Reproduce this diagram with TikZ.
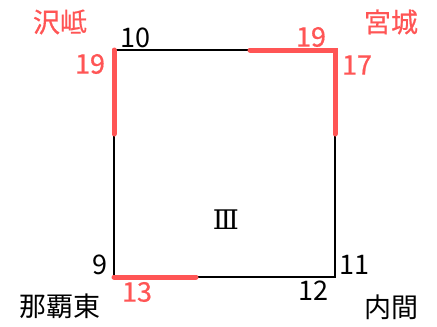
\documentclass[tikz,border=0pt]{standalone}
\usepackage{fontspec}
\setmainfont{Noto Sans CJK JP}
\newfontfamily\redfont[FakeBold=0.6]{Noto Sans CJK JP}
\newfontfamily\numeralfont{DejaVu Serif}
\definecolor{hl}{RGB}{255,85,85}
\begin{document}
\begin{tikzpicture}[x=1pt,y=-1pt,
  edge/.style={line width=1.8pt,black},
  red seg/.style={line width=5pt,hl,line cap=round},
  num/.style={font=\fontsize{27}{30}\selectfont,inner sep=0pt},
  rnum/.style={font=\redfont\fontsize{27}{30}\selectfont,inner sep=0pt,text=hl},
  place/.style={font=\fontsize{27}{30}\selectfont,inner sep=0pt},
  rplace/.style={font=\redfont\fontsize{27}{30}\selectfont,inner sep=0pt,text=hl}]
\useasboundingbox (0,0) rectangle (437,327);
\coordinate (tl) at (114,50);
\coordinate (tr) at (335,50);
\coordinate (br) at (335,277);
\coordinate (bl) at (114,277);
\coordinate (lm) at (114,134);
\coordinate (tm) at (250,50);
\coordinate (rm) at (335,134);
\coordinate (bm) at (196,277);
\draw[edge] (tl) -- (tr) -- (br) -- (bl) -- cycle;
\draw[red seg] (tl) -- (lm);
\draw[red seg] (tm) -- (tr) -- (rm);
\draw[red seg] (bl) -- (bm);
\node[rplace] (n1) at (60,22) {沢岻};
\node[rplace] (n2) at (391,22) {宮城};
\node[place] (n3) at (60,306) {那覇東};
\node[place] (n4) at (391,307) {内間};
\node[num] (a10) at (135,38) {10};
\node[rnum] (a19l) at (90,64) {19};
\node[rnum] (a19t) at (311,37) {19};
\node[rnum] (a17) at (357,65) {17};
\node[num] (a9) at (100,265) {9};
\node[rnum] (a13) at (137,292) {13};
\node[num] (a11) at (354,265) {11};
\node[num] (a12) at (313,291) {12};
\node[font=\numeralfont\fontsize{27}{30}\selectfont,inner sep=0pt] (c) at (226,220) {Ⅲ};
\end{tikzpicture}
\end{document}
